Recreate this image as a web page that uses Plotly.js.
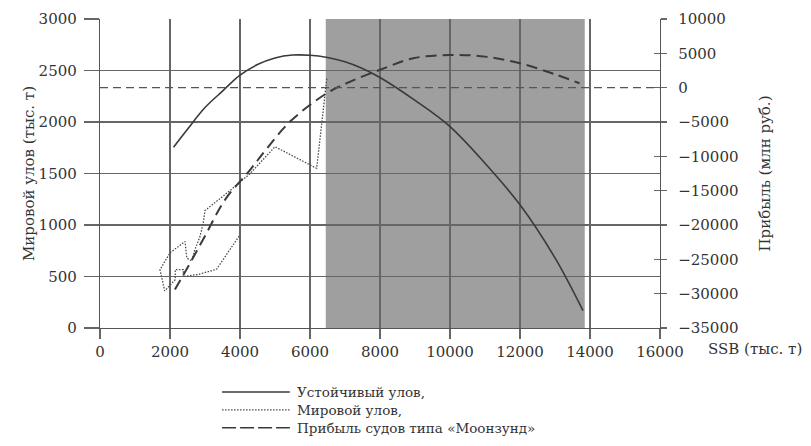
<!DOCTYPE html>
<html>
<head>
<meta charset="utf-8">
<script src="https://cdn.plot.ly/plotly-3.0.1.min.js"></script>
<style>html,body{margin:0;padding:0;background:#fff;}#chart{width:811px;height:446px;}</style>
</head>
<body>
<div id="chart"></div>
<script>
// Sustainable yield (left axis, тыс. т) vs SSB (тыс. т)
const ssbSustain = [2100, 2500, 3000, 3500, 4000, 4500, 5000, 5500, 6000, 6500, 7000, 7500, 8000, 9000, 10000, 11000, 12000, 13000, 13800];
const catchSustain = [1755, 1930, 2140, 2300, 2455, 2558, 2622, 2650, 2648, 2626, 2585, 2520, 2432, 2210, 1956, 1600, 1196, 680, 168];

// World catch (left axis) vs SSB
const ssbWorld = [6480, 6190, 5000, 4290, 3700, 3000, 2950, 2860, 2710, 2620, 2480, 2430, 2000, 1714, 1850, 2150, 2150, 2380, 2380, 2810, 3330, 4000];
const catchWorld = [2420, 1550, 1760, 1500, 1330, 1140, 1020, 890, 760, 650, 680, 840, 730, 566, 360, 470, 566, 566, 500, 520, 570, 905];

// Profit of "Moonzund" vessels (right axis, млн руб.) vs SSB
const ssbProfit = [2140, 2600, 3000, 3570, 4290, 4760, 5430, 6480, 7200, 8000, 8950, 10000, 11000, 12000, 13000, 13700];
const profit = [-29400, -25300, -21600, -16340, -11970, -8900, -4940, -810, 1000, 2600, 4280, 4760, 4520, 3550, 1950, 650];

// Zero-profit reference line
const zeroX = [0, 16000];
const zeroY = [0, 0];

// Shaded SSB range
const shadeStart = 6450;
const shadeEnd = 13850;

const seriesNames = ['Устойчивый улов,', 'Мировой улов,', 'Прибыль судов типа «Моонзунд»'];

const FONT = 'DejaVu Serif, serif';
const TXT = '#333333';
const GRID = '#666666';

const styles = [
  {color: '#3a3a3a', width: 1.6},
  {color: '#4a4a4a', width: 1.3, dash: '1.5px,1.5px'},
  {color: '#3a3a3a', width: 2, dash: '11px,6px'}
];

const traces = [
  {x: ssbSustain, y: catchSustain, type: 'scatter', mode: 'lines', name: seriesNames[0],
   line: Object.assign({shape: 'spline', smoothing: 1}, styles[0]), yaxis: 'y'},
  {x: ssbWorld, y: catchWorld, type: 'scatter', mode: 'lines', name: seriesNames[1],
   line: styles[1], yaxis: 'y'},
  {x: ssbProfit, y: profit, type: 'scatter', mode: 'lines', name: seriesNames[2],
   line: Object.assign({shape: 'spline', smoothing: 1}, styles[2]), yaxis: 'y2'},
  {x: zeroX, y: zeroY, type: 'scatter', mode: 'lines', showlegend: false,
   line: {color: '#555555', width: 1.3, dash: '8px,5px'}, yaxis: 'y3', hoverinfo: 'skip'}
];

// Legend drawn below the plot (paper coordinates)
const legendRows = [-0.207, -0.265, -0.323];
const legendLine = [0.218, 0.339];
const legendText = 0.348;
const legendDash = ['solid', '1.5px,1.5px', '14px,4px'];

const shapes = [
  {type: 'rect', xref: 'x', yref: 'paper', x0: shadeStart, x1: shadeEnd, y0: 0, y1: 1,
   fillcolor: '#9f9f9f', line: {width: 0}, layer: 'below'}
];
const annotations = [
  {text: 'SSB (тыс. т)', xref: 'paper', yref: 'paper', x: 1, y: 0, xanchor: 'left', yanchor: 'middle',
   xshift: 46, yshift: -21, showarrow: false, font: {family: FONT, size: 15, color: TXT}}
];
seriesNames.forEach((nm, i) => {
  shapes.push({type: 'line', xref: 'paper', yref: 'paper', x0: legendLine[0], x1: legendLine[1],
    y0: legendRows[i], y1: legendRows[i],
    line: {color: styles[i].color, width: i === 1 ? 1.2 : 1.6, dash: legendDash[i]}});
  annotations.push({text: nm, xref: 'paper', yref: 'paper', x: legendText, y: legendRows[i],
    xanchor: 'left', yanchor: 'middle', showarrow: false, font: {family: FONT, size: 13.5, color: TXT}});
});

const layout = {
  width: 811, height: 446,
  margin: {l: 100, r: 151, t: 19, b: 118},
  paper_bgcolor: '#ffffff', plot_bgcolor: '#ffffff',
  font: {family: FONT, color: TXT, size: 15},
  showlegend: false,
  xaxis: {range: [0, 16000], dtick: 2000, tick0: 0, tickformat: 'd', showgrid: true, gridcolor: GRID, gridwidth: 1.2,
          zeroline: false, showline: true, linecolor: '#555', linewidth: 1.2,
          ticks: 'outside', ticklen: 10, tickcolor: GRID, tickwidth: 1.2,
          tickfont: {family: FONT, size: 15, color: TXT}, fixedrange: true},
  yaxis: {range: [0, 3000], dtick: 500, tick0: 0, tickformat: 'd', showgrid: true, gridcolor: GRID, gridwidth: 1.2,
          zeroline: false, showline: true, linecolor: '#555', linewidth: 1.2,
          ticks: 'outside', ticklen: 15, tickcolor: GRID, tickwidth: 1.2, ticklabelstandoff: 4,
          tickfont: {family: FONT, size: 15, color: TXT},
          title: {text: 'Мировой улов (тыс. т)', font: {family: FONT, size: 15, color: TXT}, standoff: 0}},
  yaxis2: {range: [-35000, 10000], dtick: 5000, tick0: 0, tickformat: 'd', overlaying: 'y', side: 'right',
           showgrid: false, zeroline: false, showline: true, linecolor: '#555', linewidth: 1.2,
           ticks: 'outside', ticklen: 6, tickcolor: GRID, tickwidth: 1.2, ticklabelstandoff: 8,
           tickfont: {family: FONT, size: 15, color: TXT},
           title: {text: 'Прибыль (млн руб.)', font: {family: FONT, size: 15, color: TXT}, standoff: 22}},
  yaxis3: {range: [-35000, 10000], dtick: 5000, tick0: 0, overlaying: 'y', side: 'right', anchor: 'x',
           showgrid: false, zeroline: false, showline: false, showticklabels: false,
           ticks: 'inside', ticklen: 6, tickcolor: GRID, tickwidth: 1.2},
  shapes: shapes,
  annotations: annotations
};

Plotly.newPlot('chart', traces, layout, {displayModeBar: false, staticPlot: true});
</script>
</body>
</html>
